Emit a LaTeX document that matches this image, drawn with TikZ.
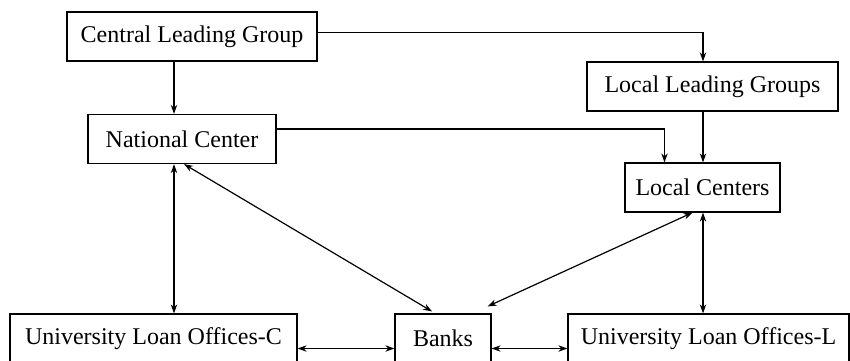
\documentclass[tikz,border=0pt]{standalone}
\usepackage{fontspec}
\setmainfont{Liberation Serif}
\usetikzlibrary{arrows.meta, positioning, calc}

\begin{document}
\begin{tikzpicture}[x=0.5pt, y=-0.5pt,
    unit/.style={draw, line width=0.6pt, inner sep=0pt, minimum height=24.5pt, font=\fontsize{12}{14}\selectfont},
    flow/.style={line width=0.6pt, -{Stealth[length=4.5pt, width=3.2pt]}},
    both/.style={line width=0.6pt, {Stealth[length=4.5pt, width=3.2pt]}-{Stealth[length=4.5pt, width=3.2pt]}}]
            \useasboundingbox (0,0) rectangle (850,360);
            % boxes
            \node[unit, minimum width=125pt]  (clg)   at (192, 36.5)  {Central Leading Group};
            \node[unit, minimum width=94pt]   (nc)    at (182, 139)   {National Center};
            \node[unit, minimum width=125.5pt] (llg)  at (712.5, 86.5) {Local Leading Groups};
            \node[unit, minimum width=77.5pt] (lc)    at (702.5, 187.5) {Local Centers};
            \node[unit, minimum width=143.5pt] (uloc) at (153.5, 338.5) {University Loan Offices-C};
            \node[unit, minimum width=48pt]   (banks) at (443, 338.5) {Banks};
            \node[unit, minimum width=140.5pt] (ulol) at (708.5, 338.5) {University Loan Offices-L};
            \coordinate (lcol) at (174, 0);
            \coordinate (rcol) at (703, 0);
            % command lines
            \draw[flow] ([yshift=2pt]clg.east) -| (llg.north -| rcol);
            \draw[flow] (clg.south -| lcol) -- (nc.north -| lcol);
            \draw[flow] ([yshift=5pt]nc.east) -| ([xshift=-19pt]lc.north);
            \draw[flow] (llg.south -| rcol) -- (lc.north -| rcol);
            % two-way links
            \draw[both] (nc.south -| lcol) -- (uloc.north -| lcol);
            \draw[both] ([xshift=1pt]nc.south) -- ([xshift=-5.5pt, yshift=1pt]banks.north);
            \draw[both] ([xshift=-5pt]lc.south) -- ([xshift=-2pt, yshift=3.5pt]banks.north east);
            \draw[both] (lc.south -| rcol) -- (ulol.north -| rcol);
            \draw[both] ([yshift=-5pt]uloc.east) -- ([yshift=-5pt]banks.west);
            \draw[both] ([yshift=-5pt]banks.east) -- ([yshift=-5pt]ulol.west);
\end{tikzpicture}
\end{document}
